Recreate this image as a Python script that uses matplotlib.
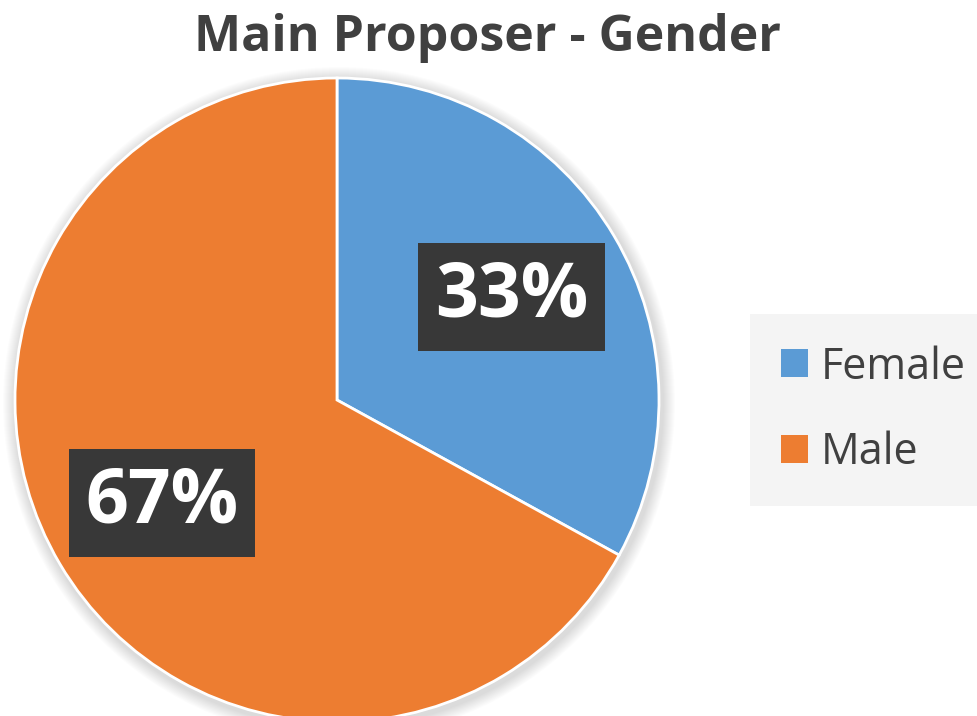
import matplotlib.pyplot as plt
from matplotlib.patches import Circle

# data
labels = ['Female', 'Male']
shares = [33, 67]
colors = ['#5B9BD5', '#ED7D31']

title = 'Main Proposer - Gender'

fig = plt.figure(figsize=(9.78, 7.16), dpi=100)
ax = fig.add_axes([0, 0, 1, 1])

cx, cy, r = 337, 316, 322

# soft shadow around the pie
for i in range(12):
    ax.add_patch(Circle((cx + 2, cy - 3), r + 14 - i, color='#000000', alpha=0.012, lw=0, zorder=0))

wedges, texts, autotexts = ax.pie(
    shares, colors=colors, startangle=90, counterclock=False,
    center=(cx, cy), radius=r, autopct='%d%%', pctdistance=0.63,
    wedgeprops=dict(edgecolor='white', linewidth=2),
    textprops=dict(color='white', fontsize=54, fontweight='bold', family='Open Sans'),
    frame=True)
ax.set_xlim(0, 978)
ax.set_ylim(0, 716)
ax.axis('off')

for t in autotexts:
    t.set_bbox(dict(boxstyle='square,pad=0.22', fc='#383838', ec='none'))

ax.text(488, 716 - 38, title, ha='center', va='center', fontsize=36,
        fontweight='bold', color='#404040', family='Open Sans')

leg = ax.legend(wedges, labels, loc='center left', bbox_to_anchor=(750 / 978, (716 - 410) / 716),
                frameon=True, handlelength=0.62, handleheight=0.62,
                handletextpad=0.3, labelspacing=0.95, borderpad=0.72, borderaxespad=0,
                prop=dict(family='Open Sans', size=31))
leg.get_frame().set_facecolor('#F2F2F2')
leg.get_frame().set_edgecolor('none')
leg.get_frame().set_boxstyle('square', pad=0)
for t in leg.get_texts():
    t.set_color('#404040')
for h in leg.legend_handles:
    h.set_edgecolor('none')

fig.savefig('out.png', dpi=100)
